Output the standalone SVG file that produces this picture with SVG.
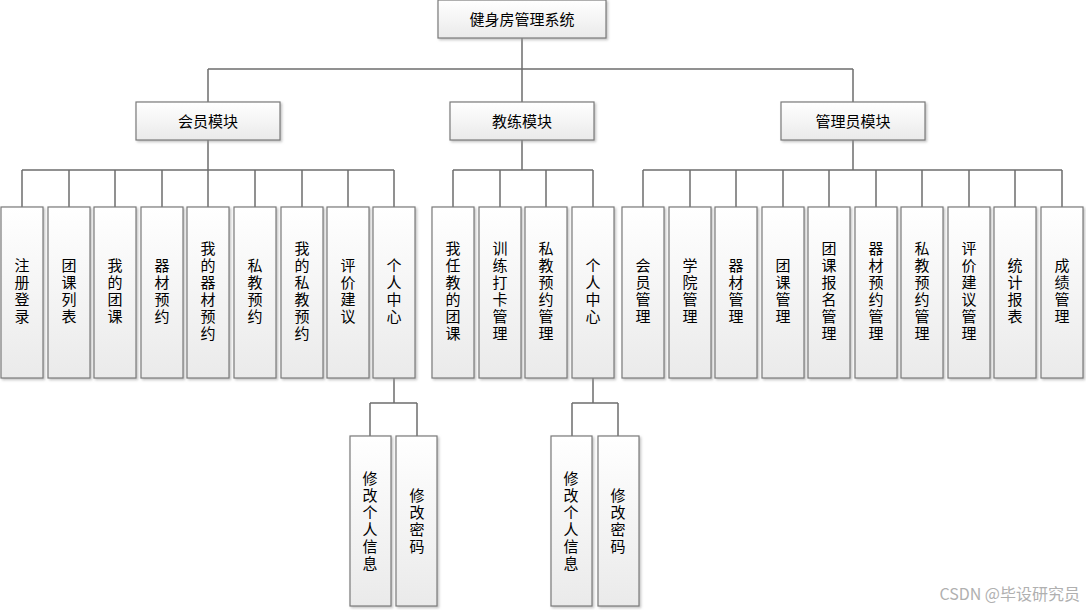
<svg xmlns="http://www.w3.org/2000/svg" width="1086" height="610" viewBox="0 0 1086 610">
<style>
.b{fill:url(#g);stroke:#7a7a7a;stroke-width:1.2;filter:url(#s)}
.t{font-family:"Noto Sans CJK SC",sans-serif;font-size:15px;fill:#000;text-anchor:middle}
.c{fill:none;stroke:#6e6e6e;stroke-width:1.5}
</style>
<defs>
<linearGradient id="g" x1="0" y1="0" x2="0" y2="1"><stop offset="0" stop-color="#ffffff"/><stop offset="1" stop-color="#eaeaea"/></linearGradient>
<filter id="s" x="-20%" y="-20%" width="150%" height="150%"><feDropShadow dx="1.5" dy="1.5" stdDeviation="0.8" flood-color="#999" flood-opacity="0.6"/></filter>
</defs>
<rect width="1086" height="610" fill="#fff"/>
<g id="connectors" class="c">
<path d="M522 38V69M208 69H853M208 69V102M522 69V102M853 69V102"/>
<path d="M208 140V170M22 170H394M22 170V207M69 170V207M115 170V207M162 170V207M208 170V207M255 170V207M302 170V207M348 170V207M394 170V207"/>
<path d="M522 140V170M453 170H593M453 170V207M500 170V207M546 170V207M593 170V207"/>
<path d="M853 140V170M643 170H1062M643 170V207M690 170V207M736 170V207M783 170V207M829 170V207M876 170V207M922 170V207M969 170V207M1015 170V207M1062 170V207"/>
<path d="M394 378V403M370 403H417M370 403V436M417 403V436"/>
<path d="M593 378V403M572 403H618M572 403V436M618 403V436"/>
</g>
<g id="root"><rect class="b" x="438" y="0" width="168" height="38"/><text class="t" x="522" y="25">健身房管理系统</text></g>
<g id="m"><rect class="b" x="136" y="102" width="144" height="38"/><text class="t" x="208" y="127">会员模块</text></g>
<g id="c"><rect class="b" x="450" y="102" width="144" height="38"/><text class="t" x="522" y="127">教练模块</text></g>
<g id="a"><rect class="b" x="781" y="102" width="144" height="38"/><text class="t" x="853" y="127">管理员模块</text></g>
<g id="m1"><rect class="b" x="1" y="207" width="42" height="171"/><text class="t" x="22"><tspan x="22" y="271">注</tspan><tspan x="22" dy="17">册</tspan><tspan x="22" dy="17">登</tspan><tspan x="22" dy="17">录</tspan></text></g>
<g id="m2"><rect class="b" x="48" y="207" width="42" height="171"/><text class="t"><tspan x="69" y="271">团</tspan><tspan x="69" dy="17">课</tspan><tspan x="69" dy="17">列</tspan><tspan x="69" dy="17">表</tspan></text></g>
<g id="m3"><rect class="b" x="94" y="207" width="42" height="171"/><text class="t"><tspan x="115" y="271">我</tspan><tspan x="115" dy="17">的</tspan><tspan x="115" dy="17">团</tspan><tspan x="115" dy="17">课</tspan></text></g>
<g id="m4"><rect class="b" x="141" y="207" width="42" height="171"/><text class="t"><tspan x="162" y="271">器</tspan><tspan x="162" dy="17">材</tspan><tspan x="162" dy="17">预</tspan><tspan x="162" dy="17">约</tspan></text></g>
<g id="m5"><rect class="b" x="187" y="207" width="42" height="171"/><text class="t"><tspan x="208" y="254">我</tspan><tspan x="208" dy="17">的</tspan><tspan x="208" dy="17">器</tspan><tspan x="208" dy="17">材</tspan><tspan x="208" dy="17">预</tspan><tspan x="208" dy="17">约</tspan></text></g>
<g id="m6"><rect class="b" x="234" y="207" width="42" height="171"/><text class="t"><tspan x="255" y="271">私</tspan><tspan x="255" dy="17">教</tspan><tspan x="255" dy="17">预</tspan><tspan x="255" dy="17">约</tspan></text></g>
<g id="m7"><rect class="b" x="281" y="207" width="42" height="171"/><text class="t"><tspan x="302" y="254">我</tspan><tspan x="302" dy="17">的</tspan><tspan x="302" dy="17">私</tspan><tspan x="302" dy="17">教</tspan><tspan x="302" dy="17">预</tspan><tspan x="302" dy="17">约</tspan></text></g>
<g id="m8"><rect class="b" x="327" y="207" width="42" height="171"/><text class="t"><tspan x="348" y="271">评</tspan><tspan x="348" dy="17">价</tspan><tspan x="348" dy="17">建</tspan><tspan x="348" dy="17">议</tspan></text></g>
<g id="m9"><rect class="b" x="373" y="207" width="42" height="171"/><text class="t"><tspan x="394" y="271">个</tspan><tspan x="394" dy="17">人</tspan><tspan x="394" dy="17">中</tspan><tspan x="394" dy="17">心</tspan></text></g>
<g id="c1"><rect class="b" x="432" y="207" width="42" height="171"/><text class="t"><tspan x="453" y="254">我</tspan><tspan x="453" dy="17">任</tspan><tspan x="453" dy="17">教</tspan><tspan x="453" dy="17">的</tspan><tspan x="453" dy="17">团</tspan><tspan x="453" dy="17">课</tspan></text></g>
<g id="c2"><rect class="b" x="479" y="207" width="42" height="171"/><text class="t"><tspan x="500" y="254">训</tspan><tspan x="500" dy="17">练</tspan><tspan x="500" dy="17">打</tspan><tspan x="500" dy="17">卡</tspan><tspan x="500" dy="17">管</tspan><tspan x="500" dy="17">理</tspan></text></g>
<g id="c3"><rect class="b" x="525" y="207" width="42" height="171"/><text class="t"><tspan x="546" y="254">私</tspan><tspan x="546" dy="17">教</tspan><tspan x="546" dy="17">预</tspan><tspan x="546" dy="17">约</tspan><tspan x="546" dy="17">管</tspan><tspan x="546" dy="17">理</tspan></text></g>
<g id="c4"><rect class="b" x="572" y="207" width="42" height="171"/><text class="t"><tspan x="593" y="271">个</tspan><tspan x="593" dy="17">人</tspan><tspan x="593" dy="17">中</tspan><tspan x="593" dy="17">心</tspan></text></g>
<g id="a1"><rect class="b" x="622" y="207" width="42" height="171"/><text class="t"><tspan x="643" y="271">会</tspan><tspan x="643" dy="17">员</tspan><tspan x="643" dy="17">管</tspan><tspan x="643" dy="17">理</tspan></text></g>
<g id="a2"><rect class="b" x="669" y="207" width="42" height="171"/><text class="t"><tspan x="690" y="271">学</tspan><tspan x="690" dy="17">院</tspan><tspan x="690" dy="17">管</tspan><tspan x="690" dy="17">理</tspan></text></g>
<g id="a3"><rect class="b" x="715" y="207" width="42" height="171"/><text class="t"><tspan x="736" y="271">器</tspan><tspan x="736" dy="17">材</tspan><tspan x="736" dy="17">管</tspan><tspan x="736" dy="17">理</tspan></text></g>
<g id="a4"><rect class="b" x="762" y="207" width="42" height="171"/><text class="t"><tspan x="783" y="271">团</tspan><tspan x="783" dy="17">课</tspan><tspan x="783" dy="17">管</tspan><tspan x="783" dy="17">理</tspan></text></g>
<g id="a5"><rect class="b" x="808" y="207" width="42" height="171"/><text class="t"><tspan x="829" y="254">团</tspan><tspan x="829" dy="17">课</tspan><tspan x="829" dy="17">报</tspan><tspan x="829" dy="17">名</tspan><tspan x="829" dy="17">管</tspan><tspan x="829" dy="17">理</tspan></text></g>
<g id="a6"><rect class="b" x="855" y="207" width="42" height="171"/><text class="t"><tspan x="876" y="254">器</tspan><tspan x="876" dy="17">材</tspan><tspan x="876" dy="17">预</tspan><tspan x="876" dy="17">约</tspan><tspan x="876" dy="17">管</tspan><tspan x="876" dy="17">理</tspan></text></g>
<g id="a7"><rect class="b" x="901" y="207" width="42" height="171"/><text class="t"><tspan x="922" y="254">私</tspan><tspan x="922" dy="17">教</tspan><tspan x="922" dy="17">预</tspan><tspan x="922" dy="17">约</tspan><tspan x="922" dy="17">管</tspan><tspan x="922" dy="17">理</tspan></text></g>
<g id="a8"><rect class="b" x="948" y="207" width="42" height="171"/><text class="t"><tspan x="969" y="254">评</tspan><tspan x="969" dy="17">价</tspan><tspan x="969" dy="17">建</tspan><tspan x="969" dy="17">议</tspan><tspan x="969" dy="17">管</tspan><tspan x="969" dy="17">理</tspan></text></g>
<g id="a9"><rect class="b" x="994" y="207" width="42" height="171"/><text class="t"><tspan x="1015" y="271">统</tspan><tspan x="1015" dy="17">计</tspan><tspan x="1015" dy="17">报</tspan><tspan x="1015" dy="17">表</tspan></text></g>
<g id="a10"><rect class="b" x="1041" y="207" width="42" height="171"/><text class="t"><tspan x="1062" y="271">成</tspan><tspan x="1062" dy="17">绩</tspan><tspan x="1062" dy="17">管</tspan><tspan x="1062" dy="17">理</tspan></text></g>
<g id="s1"><rect class="b" x="350" y="436" width="41" height="170"/><text class="t"><tspan x="370" y="484">修</tspan><tspan x="370" dy="17">改</tspan><tspan x="370" dy="17">个</tspan><tspan x="370" dy="17">人</tspan><tspan x="370" dy="17">信</tspan><tspan x="370" dy="17">息</tspan></text></g>
<g id="s2"><rect class="b" x="396" y="436" width="41" height="170"/><text class="t"><tspan x="417" y="501">修</tspan><tspan x="417" dy="17">改</tspan><tspan x="417" dy="17">密</tspan><tspan x="417" dy="17">码</tspan></text></g>
<g id="s3"><rect class="b" x="551" y="436" width="41" height="170"/><text class="t"><tspan x="571" y="484">修</tspan><tspan x="571" dy="17">改</tspan><tspan x="571" dy="17">个</tspan><tspan x="571" dy="17">人</tspan><tspan x="571" dy="17">信</tspan><tspan x="571" dy="17">息</tspan></text></g>
<g id="s4"><rect class="b" x="598" y="436" width="41" height="170"/><text class="t"><tspan x="618" y="501">修</tspan><tspan x="618" dy="17">改</tspan><tspan x="618" dy="17">密</tspan><tspan x="618" dy="17">码</tspan></text></g>
<text x="1080" y="600" style="font-family:'Noto Sans CJK SC',sans-serif;font-size:16px;fill:#b0b0b0;text-anchor:end">CSDN @毕设研究员</text>
</svg>
